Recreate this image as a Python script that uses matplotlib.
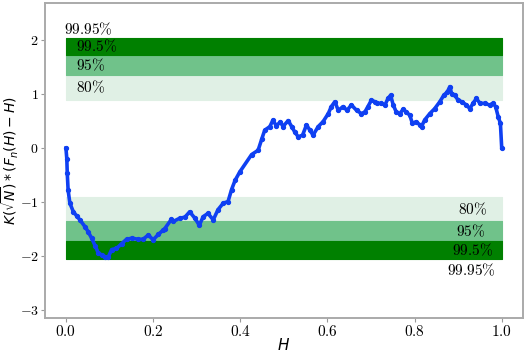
"""Scaled empirical process of H with KS confidence bands."""

import matplotlib

matplotlib.use("Agg")

import matplotlib.pyplot as plt

# band edges (|y| thresholds) and labels, from inner to outer
band_edges = [0.90, 1.36, 1.73, 2.05]
band_labels = ["80%", "95%", "99.5%"]
outer_label = "99.95%"
band_colors = ["#e0f0e5", "#70c28a", "#008000"]

# curve
h_values = [
    0.000, 0.002, 0.003, 0.005, 0.009, 0.017, 0.025, 0.032, 0.044, 0.051,
    0.059, 0.067, 0.074, 0.082, 0.089, 0.097, 0.105, 0.116, 0.128, 0.139,
    0.151, 0.166, 0.177, 0.189, 0.200, 0.212, 0.223, 0.227, 0.242, 0.246,
    0.261, 0.273, 0.284, 0.296, 0.306, 0.315, 0.326, 0.338, 0.349, 0.361,
    0.372, 0.380, 0.388, 0.399, 0.426, 0.441, 0.449, 0.456, 0.468, 0.475,
    0.483, 0.492, 0.498, 0.510, 0.518, 0.525, 0.533, 0.543, 0.552, 0.560,
    0.567, 0.579, 0.590, 0.602, 0.609, 0.617, 0.625, 0.636, 0.645, 0.655,
    0.667, 0.678, 0.686, 0.693, 0.701, 0.709, 0.713, 0.722, 0.732, 0.739,
    0.745, 0.751, 0.758, 0.766, 0.774, 0.781, 0.789, 0.795, 0.804, 0.812,
    0.816, 0.823, 0.835, 0.846, 0.858, 0.867, 0.875, 0.881, 0.885, 0.892,
    0.900, 0.908, 0.919, 0.927, 0.934, 0.942, 0.950, 0.961, 0.972, 0.980,
    0.986, 0.992, 0.997, 1.000,
]
k_values = [
    0.00, -0.20, -0.46, -0.78, -1.02, -1.18, -1.26, -1.33, -1.46, -1.55,
    -1.67, -1.81, -1.94, -1.98, -2.01, -2.02, -1.88, -1.86, -1.77, -1.69,
    -1.67, -1.69, -1.69, -1.61, -1.70, -1.60, -1.52, -1.49, -1.32, -1.36,
    -1.30, -1.28, -1.18, -1.30, -1.43, -1.27, -1.21, -1.33, -1.14, -1.02,
    -0.99, -0.77, -0.60, -0.44, -0.12, -0.04, 0.16, 0.33, 0.40, 0.52,
    0.41, 0.49, 0.40, 0.51, 0.40, 0.30, 0.21, 0.24, 0.43, 0.33,
    0.24, 0.40, 0.49, 0.64, 0.77, 0.86, 0.70, 0.77, 0.70, 0.80,
    0.70, 0.64, 0.67, 0.77, 0.89, 0.86, 0.83, 0.83, 0.80, 0.92,
    0.98, 0.80, 0.67, 0.64, 0.72, 0.67, 0.61, 0.46, 0.49, 0.43,
    0.40, 0.52, 0.64, 0.73, 0.86, 0.98, 1.04, 1.14, 1.01, 0.98,
    0.89, 0.86, 0.80, 0.73, 0.83, 0.92, 0.83, 0.83, 0.80, 0.83,
    0.77, 0.58, 0.46, 0.00,
]

x_ticks = [0.0, 0.2, 0.4, 0.6, 0.8, 1.0]
y_ticks = [-3, -2, -1, 0, 1, 2]

plt.rcParams["mathtext.fontset"] = "cm"
plt.rcParams["font.family"] = "serif"
plt.rcParams["font.serif"] = ["cmr10", "DejaVu Serif"]
plt.rcParams["axes.formatter.use_mathtext"] = True


def pct(label):
    return "$" + label.replace("%", r"\%") + "$"


fig = plt.figure(figsize=(5.26, 3.53), dpi=100)
ax = fig.add_axes([0.0856, 0.099, 0.908, 0.8925])

for sign in (1, -1):
    for lo, hi, color in zip(band_edges[:-1], band_edges[1:], band_colors):
        ax.fill_between([0, 1], sign * lo, sign * hi, color=color,
                        edgecolor=color, linewidth=0.8, zorder=1)

# labels on the upper band, left aligned
ax.text(-0.005, 2.20, pct(outer_label), ha="left", va="center", fontsize=11, zorder=3)
for lab, lo, hi in zip(band_labels, band_edges[:-1], band_edges[1:]):
    ax.text(0.023, (lo + hi) / 2, pct(lab), ha="left", va="center", fontsize=11, zorder=3)

# labels on the lower band, right aligned
right_pos = [0.966, 0.963, 0.979]
for lab, lo, hi, xr in zip(band_labels, band_edges[:-1], band_edges[1:], right_pos):
    ax.text(xr, -(lo + hi) / 2, pct(lab), ha="right", va="center", fontsize=11, zorder=3)
ax.text(0.987, -2.26, pct(outer_label), ha="right", va="center", fontsize=11, zorder=3)

ax.plot(h_values, k_values, color="#0f40f2", linewidth=2.6, marker="o",
        markersize=2.8, zorder=2)

ax.set_xlim(-0.048, 1.048)
ax.set_ylim(-3.15, 2.69)
ax.set_xticks(x_ticks)
ax.set_yticks(y_ticks)
ax.set_xticklabels(["$%.1f$" % t for t in x_ticks])
ax.set_yticklabels(["$%d$" % t for t in y_ticks])
ax.tick_params(labelsize=11, color="#999999", length=3, width=0.8, pad=1.5)
ax.tick_params(axis="y", labelsize=10)

for spine in ax.spines.values():
    spine.set_color("#aaaaaa")
    spine.set_linewidth(1.4)

ax.set_xlabel("$H$", fontsize=11, math_fontfamily="dejavusans", va="center")
ax.xaxis.set_label_coords(0.5, -0.086)
ax.set_ylabel(r"$K(\sqrt{N}) * (F_n(H) - H)$", fontsize=10,
              math_fontfamily="dejavusans", va="center")
ax.yaxis.set_label_coords(-0.073, 0.5)

fig.savefig("out.png", dpi=100)
